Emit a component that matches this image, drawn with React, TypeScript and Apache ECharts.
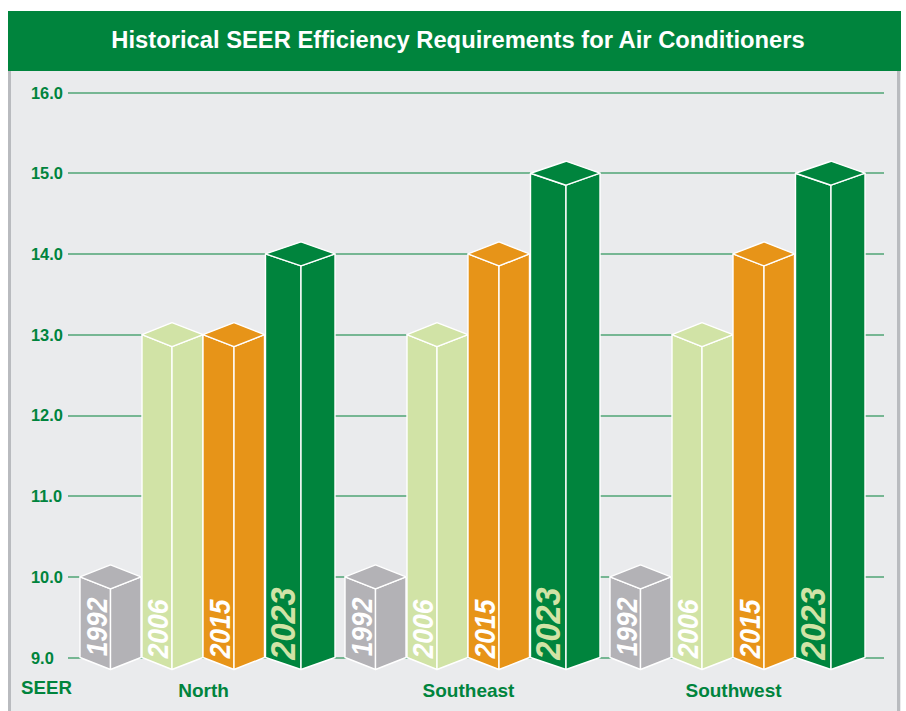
import React, { useEffect, useRef } from "react";
import * as echarts from "echarts";

const titleText = "Historical SEER Efficiency Requirements for Air Conditioners";
const regions = ["North", "Southeast", "Southwest"];
const years = ["1992", "2006", "2015", "2023"];
const values1992 = [10, 10, 10];
const values2006 = [13, 13, 13];
const values2015 = [13, 14, 14];
const values2023 = [14, 15, 15];
const yMin = 9;
const yMax = 16;

const GREEN = "#00843d";
const FONT = "'Liberation Sans', Arial, Helvetica, sans-serif";

const seriesStyle = [
  { color: "#b3b2b6", text: "#ffffff", l: -123.5, m: -93, r: -62.5, tx: -107.5, ty: 627, fs: 30, sx: 0.88 },
  { color: "#d1e3a6", text: "#ffffff", l: -61.5, m: -31.5, r: -0.5, tx: -46, ty: 629, fs: 30, sx: 0.88 },
  { color: "#e79418", text: "#ffffff", l: -0.5, m: 30.5, r: 61, tx: 15.5, ty: 629, fs: 30, sx: 0.88 },
  { color: GREEN, text: "#d1e3a6", l: 62, m: 97.5, r: 131.5, tx: 79, ty: 623.5, fs: 35, sx: 0.93 },
];

const DEPTH = 12;

function renderBar(params: any, api: any) {
  const s = seriesStyle[params.seriesIndex];
  const top = api.coord([api.value(0), api.value(1)]);
  const base = api.coord([api.value(0), yMin]);
  const cx = top[0];
  const l = cx + s.l;
  const m = cx + s.m;
  const r = cx + s.r;
  const yT = top[1];
  const yB = base[1];
  const faceStyle = { fill: s.color, stroke: "#ffffff", lineWidth: 1.4, lineJoin: "round" };
  return {
    type: "group",
    children: [
      { type: "polygon", shape: { points: [[l, yT], [m, yT + DEPTH], [m, yB + DEPTH], [l, yB]] }, style: faceStyle },
      { type: "polygon", shape: { points: [[m, yT + DEPTH], [r, yT], [r, yB], [m, yB + DEPTH]] }, style: faceStyle },
      { type: "polygon", shape: { points: [[l, yT], [m, yT - DEPTH], [r, yT], [m, yT + DEPTH]] }, style: faceStyle },
      {
        type: "text",
        x: cx + s.tx,
        y: s.ty,
        rotation: Math.PI / 2,
        scaleX: s.sx,
        style: {
          text: years[params.seriesIndex],
          fill: s.text,
          font: `italic bold ${s.fs}px ${FONT}`,
          align: "center",
          verticalAlign: "middle",
        },
      },
    ],
  };
}

export default function App() {
  const ref = useRef<HTMLDivElement>(null);
  useEffect(() => {
    const chart = echarts.init(ref.current!, undefined, { renderer: "svg" });
    const allValues = [values1992, values2006, values2015, values2023];
    chart.setOption({
      animation: false,
      backgroundColor: "#ffffff",
      title: {
        text: titleText,
        left: 453,
        top: 19,
        textAlign: "center",
        textStyle: { color: "#ffffff", fontFamily: FONT, fontWeight: "bold", fontSize: 23.75, lineHeight: 30 },
      },
      graphic: [
        { type: "rect", z: -5, shape: { x: 8, y: 71, width: 893, height: 640 }, style: { fill: "#eaebed" } },
        { type: "rect", z: -4, shape: { x: 8, y: 71, width: 3, height: 640 }, style: { fill: "#b9bbbf" } },
        { type: "rect", z: -4, shape: { x: 897, y: 71, width: 3, height: 640 }, style: { fill: "#b9bbbf" } },
        { type: "rect", z: -3, shape: { x: 8, y: 11, width: 893, height: 60 }, style: { fill: GREEN } },
        {
          type: "text",
          x: 21,
          y: 687,
          style: { text: "SEER", fill: GREEN, font: `bold 18.7px ${FONT}`, align: "left", verticalAlign: "middle" },
        },
      ],
      grid: [
        { left: 68, right: 22, top: 92.5, height: 565 },
        { left: 71, width: 795, top: 92.5, height: 565 },
      ],
      xAxis: [
        { type: "category", gridIndex: 0, data: regions, show: false },
        {
          type: "category",
          gridIndex: 1,
          data: regions,
          axisLine: { show: false },
          axisTick: { show: false },
          axisLabel: { color: GREEN, fontFamily: FONT, fontWeight: "bold", fontSize: 19, margin: 23 },
        },
      ],
      yAxis: [
        {
          type: "value",
          gridIndex: 0,
          min: yMin,
          max: yMax,
          interval: 1,
          axisLine: { show: false },
          axisTick: { show: false },
          splitLine: { show: true, lineStyle: { color: "#4fa574", width: 1.5 } },
          axisLabel: {
            color: GREEN,
            fontFamily: FONT,
            fontWeight: "bold",
            fontSize: 16.4,
            align: "left",
            margin: 37,
            padding: [0, 0, 4, 0],
            formatter: (v: number) => v.toFixed(1),
          },
        },
        { type: "value", gridIndex: 1, min: yMin, max: yMax, interval: 1, show: false },
      ],
      series: years.map((year, i) => ({
        type: "custom",
        name: year,
        xAxisIndex: 1,
        yAxisIndex: 1,
        clip: false,
        z: 5,
        encode: { x: 0, y: 1 },
        renderItem: renderBar,
        data: regions.map((region, j) => [region, allValues[i][j]]),
      })),
    });
    return () => chart.dispose();
  }, []);
  return <div ref={ref} style={{ position: "absolute", left: 0, top: 0, width: 906, height: 711 }} />;
}
